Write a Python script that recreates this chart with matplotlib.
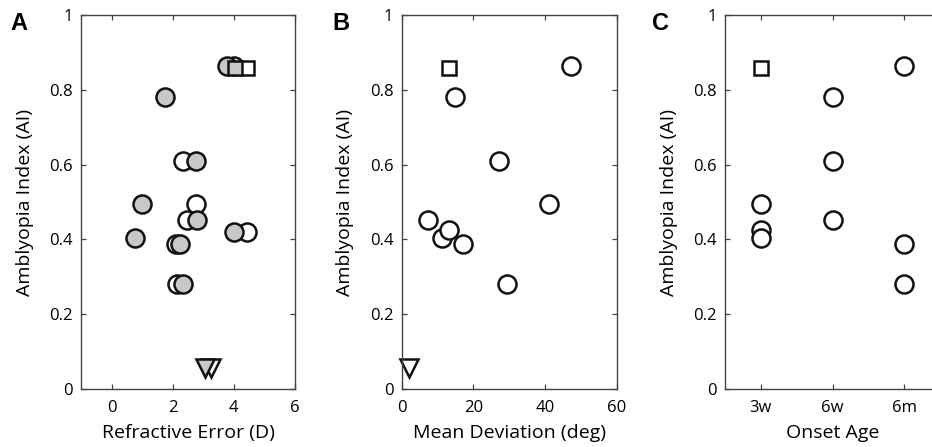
import matplotlib
matplotlib.use("Agg")
import matplotlib.pyplot as plt

plt.rcParams['font.family'] = ['Open Sans', 'DejaVu Sans']

# ---------------- data ----------------
# Panel A: refractive error (D) vs amblyopia index
a_gray_circle_x = [3.77, 1.74, 2.77, 1.00, 2.79, 4.02, 0.76, 2.25, 2.35]
a_gray_circle_y = [0.864, 0.782, 0.609, 0.494, 0.452, 0.421, 0.405, 0.388, 0.281]
a_white_circle_x = [4.00, 2.34, 2.77, 2.47, 4.42, 2.12, 2.15]
a_white_circle_y = [0.864, 0.609, 0.494, 0.452, 0.421, 0.388, 0.281]
a_square_x = [4.04, 4.42]          # gray, white
a_square_y = [0.857, 0.857]
a_triangle_x = [3.04, 3.26]        # gray, white
a_triangle_y = [0.055, 0.055]

# Panel B: mean deviation (deg) vs amblyopia index
b_circle_x = [14.9, 47.2, 27.2, 41.0, 7.2, 11.2, 13.3, 17.2, 29.3]
b_circle_y = [0.782, 0.864, 0.609, 0.494, 0.452, 0.405, 0.425, 0.388, 0.281]
b_square_x = [13.3]
b_square_y = [0.857]
b_triangle_x = [2.1]
b_triangle_y = [0.056]

# Panel C: onset age vs amblyopia index
c_categories = ['3w', '6w', '6m']
c_circle_cat = ['3w', '3w', '3w', '6w', '6w', '6w', '6m', '6m', '6m']
c_circle_y = [0.494, 0.425, 0.405, 0.782, 0.609, 0.452, 0.864, 0.388, 0.281]
c_square_cat = ['3w']
c_square_y = [0.857]

# ---------------- style ----------------
GRAY = '#c8c8c8'
EDGE = '#111111'
SPINE = '#444444'
CIRC_MS = 13
SQ_MS = 10
TRI_MS = 13
MEW = 1.8
TICK_FS = 12
LABEL_FS = 14

fig = plt.figure(figsize=(9.32, 4.47), dpi=100)

H = 447.0
W = 932.0
bottom = 1 - 389 / H
height = (389 - 15) / H
axA = fig.add_axes([81 / W, bottom, 214 / W, height])
axB = fig.add_axes([401.7 / W, bottom, 215 / W, height])
axC = fig.add_axes([725 / W, bottom, 215 / W, height])


def style(ax):
    for s in ax.spines.values():
        s.set_color(SPINE)
        s.set_linewidth(1.0)
    ax.tick_params(direction='in', top=True, right=True, length=3.5,
                   width=0.9, color=SPINE, labelsize=TICK_FS)
    ax.tick_params(axis='x', pad=8)
    ax.tick_params(axis='y', pad=6)
    ax.set_ylim(0, 1)
    ax.set_yticks([0, 0.2, 0.4, 0.6, 0.8, 1])
    ax.set_yticklabels(['0', '0.2', '0.4', '0.6', '0.8', '1'])
    ax.set_ylabel('Amblyopia Index (AI)', fontsize=LABEL_FS, labelpad=11)


def pts(ax, x, y, marker, ms, face):
    ax.plot(x, y, linestyle='none', marker=marker, markersize=ms,
            markerfacecolor=face, markeredgecolor=EDGE, markeredgewidth=MEW,
            clip_on=False)


# Panel A
style(axA)
pts(axA, a_white_circle_x, a_white_circle_y, 'o', CIRC_MS, 'white')
pts(axA, a_gray_circle_x, a_gray_circle_y, 'o', CIRC_MS, GRAY)
pts(axA, a_square_x[1:], a_square_y[1:], 's', SQ_MS, 'white')
pts(axA, a_square_x[:1], a_square_y[:1], 's', SQ_MS, GRAY)
pts(axA, a_triangle_x[1:], a_triangle_y[1:], 'v', TRI_MS, 'white')
pts(axA, a_triangle_x[:1], a_triangle_y[:1], 'v', TRI_MS, GRAY)
axA.set_xlim(-1, 6)
axA.set_xticks([0, 2, 4, 6])
axA.set_xlabel('Refractive Error (D)', fontsize=LABEL_FS, labelpad=6)

# Panel B
style(axB)
pts(axB, b_circle_x, b_circle_y, 'o', CIRC_MS, 'white')
pts(axB, b_square_x, b_square_y, 's', SQ_MS, 'white')
pts(axB, b_triangle_x, b_triangle_y, 'v', TRI_MS, 'white')
axB.set_xlim(0, 60)
axB.set_xticks([0, 20, 40, 60])
axB.set_xlabel('Mean Deviation (deg)', fontsize=LABEL_FS, labelpad=6)

# Panel C
style(axC)
cat_pos = {c: i + 1 for i, c in enumerate(c_categories)}
pts(axC, [cat_pos[c] for c in c_circle_cat], c_circle_y, 'o', CIRC_MS, 'white')
pts(axC, [cat_pos[c] for c in c_square_cat], c_square_y, 's', SQ_MS, 'white')
axC.set_xlim(0.5, 3.5)
axC.set_xticks([1, 2, 3])
axC.set_xticklabels(c_categories)
axC.set_xlabel('Onset Age', fontsize=LABEL_FS, labelpad=6)

# Panel letters
for label, xpx in [('A', 10), ('B', 332), ('C', 652)]:
    fig.text(xpx / W, 1 - 12 / H, label, fontsize=17, fontweight='bold',
             family=['Liberation Sans', 'DejaVu Sans'], va='top', ha='left')

fig.savefig('out.png', dpi=100)
